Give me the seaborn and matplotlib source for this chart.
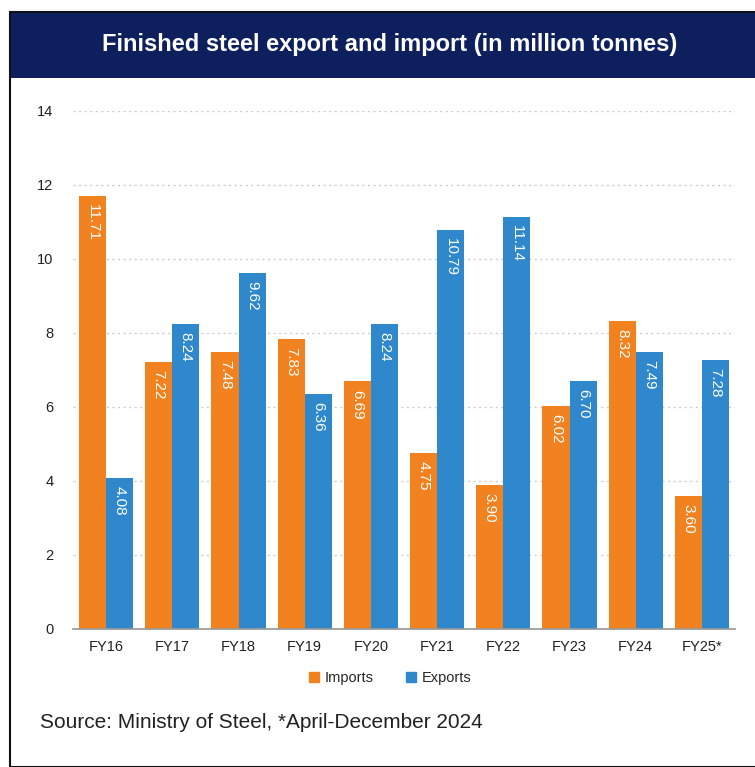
import matplotlib
matplotlib.use("Agg")
import matplotlib.pyplot as plt
from matplotlib.patches import Rectangle
import seaborn as sns
import pandas as pd

years = ["FY16", "FY17", "FY18", "FY19", "FY20", "FY21", "FY22", "FY23", "FY24", "FY25*"]
imports = [11.71, 7.22, 7.48, 7.83, 6.69, 4.75, 3.90, 6.02, 8.32, 3.60]
exports = [4.08, 8.24, 9.62, 6.36, 8.24, 10.79, 11.14, 6.70, 7.49, 7.28]
series = ["Imports", "Exports"]
y_ticks = [0, 2, 4, 6, 8, 10, 12, 14]

ORANGE = "#F28120"
BLUE = "#2F87CC"
NAVY = "#0E1F5E"

sns.set_theme(style="white")
plt.rcParams["font.family"] = ["Liberation Sans", "DejaVu Sans"]

df = pd.DataFrame({
    "year": years * 2,
    "flow": [series[0]] * len(years) + [series[1]] * len(years),
    "value": imports + exports,
})

W, H = 755, 767
fig = plt.figure(figsize=(W / 100, H / 100), dpi=100)
fig.patch.set_facecolor("white")

# outer frame and title banner
fig.add_artist(Rectangle((10 / W, 0), 760 / W, (H - 12) / H, transform=fig.transFigure,
                         facecolor="none", edgecolor="#111111", lw=1.5))
fig.add_artist(Rectangle((11 / W, (H - 78) / H), 760 / W, 65 / H, transform=fig.transFigure,
                         facecolor=NAVY, edgecolor="none"))
fig.text(390 / W, (H - 45) / H, "Finished steel export and import (in million tonnes)",
         color="white", fontsize=17, fontweight="bold", ha="center", va="center")

ax_left, ax_right, ax_bottom, ax_top = 73, 735, 629, 111
ax = fig.add_axes([ax_left / W, (H - ax_bottom) / H,
                   (ax_right - ax_left) / W, (ax_bottom - ax_top) / H])

sns.barplot(data=df, x="year", y="value", hue="flow", hue_order=series,
            palette=[ORANGE, BLUE], width=0.82, saturation=1, ax=ax, legend=True,
            linewidth=0, edgecolor="none")

ax.set_ylim(0, 14)
ax.set_xlim(-0.5, len(years) - 0.5)
ax.set_yticks(y_ticks)
ax.set_yticklabels([str(t) for t in y_ticks], fontsize=10.5, color="#222222")
ax.set_xlabel("")
ax.set_ylabel("")
ax.tick_params(axis="x", labelsize=10.5, colors="#222222", length=0, pad=8)
ax.tick_params(axis="y", length=0, pad=14)
ax.set_xticks([i - 0.5 for i in range(len(years) + 1)], minor=True)
ax.tick_params(axis="x", which="minor", length=4, color="#999999", width=1)

for t in y_ticks[1:]:
    ax.axhline(t, color="#cccccc", lw=1, ls=(0, (1.5, 2.5)), zorder=0)
for s in ["top", "right", "left"]:
    ax.spines[s].set_visible(False)
ax.spines["bottom"].set_color("#999999")
ax.set_axisbelow(True)

for container in ax.containers:
    for bar in container:
        h = bar.get_height()
        ax.text(bar.get_x() + bar.get_width() / 2, h - 0.22, f"{h:.2f}",
                rotation=-90, ha="center", va="top", color="white", fontsize=11)

ax.get_legend().remove()
handles = [Rectangle((0, 0), 1, 1, color=c) for c in (ORANGE, BLUE)]
fig.legend(handles, series, loc="center", bbox_to_anchor=(390 / W, (H - 678) / H),
           ncol=2, frameon=False, fontsize=10.5, handlelength=0.7, handleheight=0.7,
           handletextpad=0.4, columnspacing=2.2)

fig.text(40 / W, (H - 722) / H, "Source: Ministry of Steel, *April-December 2024",
         fontsize=15, color="#222222", ha="left", va="center")

fig.savefig("out.png", dpi=100)
